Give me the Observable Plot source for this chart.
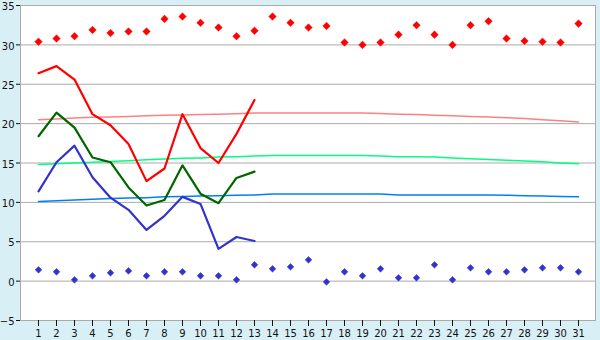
<!DOCTYPE html>
<html>
<head>
<meta charset="utf-8">
<script src="https://cdn.jsdelivr.net/npm/d3@7"></script>
<script src="https://cdn.jsdelivr.net/npm/@observablehq/plot@0.6"></script>
<style>
  html, body { margin: 0; padding: 0; background: #d9eff6; }
  #chart svg { display: block; background: transparent; }
</style>
</head>
<body>
<div id="chart"></div>
<script>
const days = d3.range(1, 32);
const yTicks = [-5, 0, 5, 10, 15, 20, 25, 30, 35];

// Observed daily values (days 1–13)
const obsDays = [1, 2, 3, 4, 5, 6, 7, 8, 9, 10, 11, 12, 13];
const maxTemp = [26.4, 27.3, 25.6, 21.2, 19.8, 17.4, 12.7, 14.3, 21.2, 16.9, 15.0, 18.7, 23.0];
const meanTemp = [18.4, 21.4, 19.5, 15.7, 15.1, 11.9, 9.6, 10.3, 14.7, 11.1, 9.9, 13.1, 13.9];
const minTemp = [11.4, 15.1, 17.2, 13.2, 10.6, 9.05, 6.5, 8.3, 10.7, 9.8, 4.1, 5.6, 5.1];

// Records (all 31 days)
const recordMax = [30.4, 30.8, 31.1, 31.9, 31.5, 31.7, 31.7, 33.3, 33.6, 32.8,
  32.2, 31.1, 31.8, 33.6, 32.8, 32.2, 32.4, 30.3, 30.0, 30.3,
  31.3, 32.5, 31.3, 30.0, 32.5, 33.0, 30.8, 30.5, 30.4, 30.3, 32.7];
const recordMin = [1.43, 1.18, 0.16, 0.67, 1.05, 1.3, 0.67, 1.18, 1.18, 0.67,
  0.67, 0.16, 2.07, 1.56, 1.81, 2.7, -0.1, 1.18, 0.67, 1.56,
  0.42, 0.42, 2.07, 0.16, 1.69, 1.18, 1.18, 1.43, 1.69, 1.69, 1.18];

// Normals (all 31 days)
const normalMax = [20.5, 20.6, 20.7, 20.8, 20.85, 20.9, 21.0, 21.05, 21.1, 21.15,
  21.2, 21.25, 21.35, 21.35, 21.35, 21.35, 21.35, 21.35, 21.35, 21.3,
  21.2, 21.15, 21.05, 21.0, 20.9, 20.85, 20.75, 20.65, 20.5, 20.35, 20.2];
const normalMean = [14.8, 14.9, 15.0, 15.1, 15.2, 15.3, 15.4, 15.5, 15.6, 15.65,
  15.75, 15.8, 15.9, 15.95, 15.95, 15.95, 15.95, 15.95, 15.95, 15.9,
  15.8, 15.8, 15.75, 15.65, 15.55, 15.45, 15.35, 15.25, 15.15, 15.0, 14.9];
const normalMin = [10.1, 10.2, 10.3, 10.4, 10.5, 10.55, 10.6, 10.7, 10.75, 10.8,
  10.85, 10.9, 10.95, 11.05, 11.05, 11.05, 11.05, 11.05, 11.05, 11.05,
  10.95, 10.95, 10.95, 10.95, 10.95, 10.95, 10.9, 10.85, 10.8, 10.75, 10.7];

const full = days.map((d, i) => ({
  day: d, rMax: recordMax[i], rMin: recordMin[i],
  nMax: normalMax[i], nMean: normalMean[i], nMin: normalMin[i]
}));
const obs = obsDays.map((d, i) => ({ day: d, max: maxTemp[i], mean: meanTemp[i], min: minTemp[i] }));

const chart = Plot.plot({
  width: 600,
  height: 340,
  marginLeft: 20,
  marginRight: 5,
  marginTop: 5,
  marginBottom: 20,
  style: { fontFamily: "DejaVu Sans", fontSize: "10px", color: "#111", background: "transparent" },
  x: { type: "point", domain: days, padding: 0.5, label: null },
  y: { domain: [-5, 35], label: null },
  marks: [
    Plot.frame({ fill: "white", stroke: null }),
    Plot.gridY(yTicks, { stroke: "#aaaaaa", strokeOpacity: 1, strokeWidth: 1 }),
    Plot.lineY(full, { x: "day", y: "nMax", stroke: "#ff8080", strokeWidth: 1.5 }),
    Plot.lineY(full, { x: "day", y: "nMean", stroke: "#00ff80", strokeWidth: 1.5 }),
    Plot.lineY(full, { x: "day", y: "nMin", stroke: "#0080f0", strokeWidth: 1.5 }),
    Plot.lineY(obs, { x: "day", y: "max", stroke: "#ff0000", strokeWidth: 2.2 }),
    Plot.lineY(obs, { x: "day", y: "mean", stroke: "#006600", strokeWidth: 2.2 }),
    Plot.lineY(obs, { x: "day", y: "min", stroke: "#3333cc", strokeWidth: 2.2 }),
    Plot.dot(full, { x: "day", y: "rMax", symbol: "diamond2", r: 3.4, fill: "#ff0000", stroke: "#ff0000", strokeWidth: 0.5 }),
    Plot.dot(full, { x: "day", y: "rMin", symbol: "diamond2", r: 3.0, fill: "#3333cc", stroke: "#3333cc", strokeWidth: 0.5 }),
    Plot.frame({ stroke: "#aaaaaa", fill: null }),
    Plot.axisY(yTicks, { tickSize: 4, tickFormat: () => "", stroke: "#111" }),
    Plot.axisY(yTicks, { tickSize: 0, tickPadding: 6, dy: 1.5, fill: "#111" }),
    Plot.axisX(days, { tickSize: 6, tickPadding: 3, stroke: "#111", fill: "#111" })
  ]
});
document.getElementById("chart").appendChild(chart);
</script>
</body>
</html>
